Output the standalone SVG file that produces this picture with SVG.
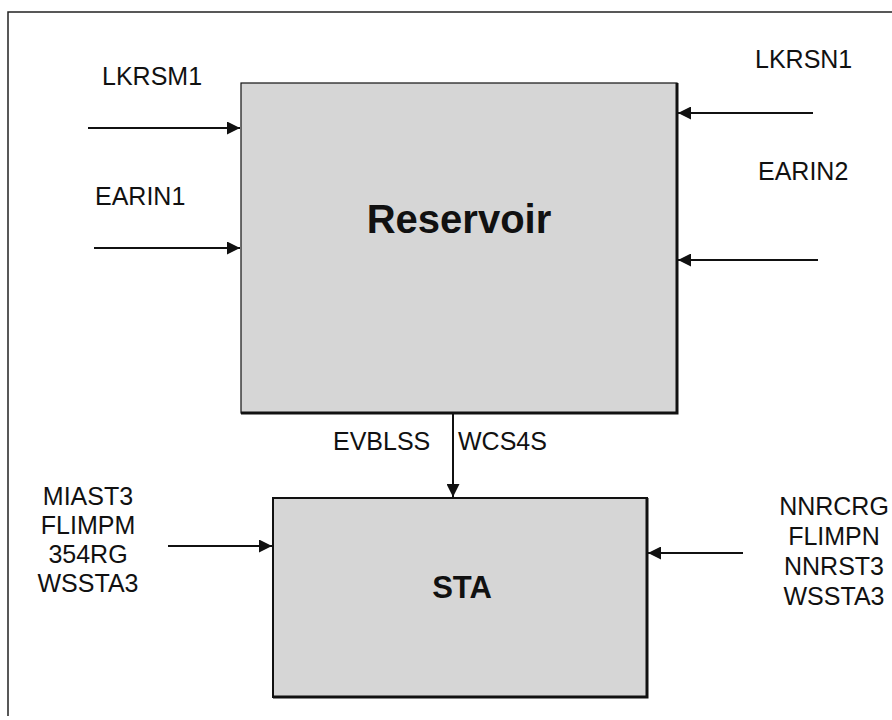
<svg xmlns="http://www.w3.org/2000/svg" width="892" height="720" viewBox="0 0 892 720">
  <style>
    .lbl { font-family: "Liberation Sans", Arial, sans-serif; font-size: 25px; fill: #111; }
    .title { font-family: "Liberation Sans", Arial, sans-serif; font-weight: bold; fill: #111; text-anchor: middle; }
    .box { fill: #d6d6d6; stroke: #111; }
    .edge { stroke: #111; stroke-width: 2; fill: none; }
    .frame { stroke: #222; stroke-width: 1.5; fill: none; }
  </style>
  <defs>
    <marker id="arr" viewBox="0 0 12 12" refX="12" refY="6" markerWidth="13" markerHeight="13" markerUnits="userSpaceOnUse" orient="auto">
      <path d="M0,0 L12,6 L0,12 Z" fill="#111"/>
    </marker>
  </defs>
  <rect width="892" height="720" fill="#fff"/>
  <path class="frame" d="M8,716 L8,12 L892,12"/>

  <g id="reservoir">
    <rect class="box" x="241" y="83" width="436" height="330" stroke-width="1.2"/>
    <path d="M677,83 L677,413 L241,413" stroke="#111" stroke-width="3" fill="none"/>
    <text class="title" x="459" y="233" font-size="40">Reservoir</text>
  </g>

  <g id="sta">
    <rect class="box" x="273" y="498" width="374" height="199" stroke-width="2"/>
    <path d="M647,498 L647,697 L273,697" stroke="#111" stroke-width="3" fill="none"/>
    <text class="title" x="462" y="598" font-size="31">STA</text>
  </g>

  <g id="connectors">
    <line class="edge" x1="88" y1="128" x2="240" y2="128" marker-end="url(#arr)"/>
    <line class="edge" x1="94" y1="248" x2="240" y2="248" marker-end="url(#arr)"/>
    <line class="edge" x1="813" y1="113" x2="678" y2="113" marker-end="url(#arr)"/>
    <line class="edge" x1="818" y1="260" x2="678" y2="260" marker-end="url(#arr)"/>
    <line class="edge" x1="453" y1="414" x2="453" y2="497" marker-end="url(#arr)"/>
    <line class="edge" x1="168" y1="546" x2="272" y2="546" marker-end="url(#arr)"/>
    <line class="edge" x1="743" y1="553" x2="648" y2="553" marker-end="url(#arr)"/>
  </g>

  <g id="labels">
    <text class="lbl" x="102" y="85">LKRSM1</text>
    <text class="lbl" x="755" y="68">LKRSN1</text>
    <text class="lbl" x="95" y="205">EARIN1</text>
    <text class="lbl" x="758" y="180">EARIN2</text>
    <text class="lbl" x="333" y="450">EVBLSS</text>
    <text class="lbl" x="458" y="450">WCS4S</text>
    <g text-anchor="middle">
      <text class="lbl" x="88" y="505">MIAST3</text>
      <text class="lbl" x="88" y="534">FLIMPM</text>
      <text class="lbl" x="88" y="563">354RG</text>
      <text class="lbl" x="88" y="592">WSSTA3</text>
      <text class="lbl" x="834" y="515">NNRCRG</text>
      <text class="lbl" x="834" y="545">FLIMPN</text>
      <text class="lbl" x="834" y="575">NNRST3</text>
      <text class="lbl" x="834" y="605">WSSTA3</text>
    </g>
  </g>
</svg>
